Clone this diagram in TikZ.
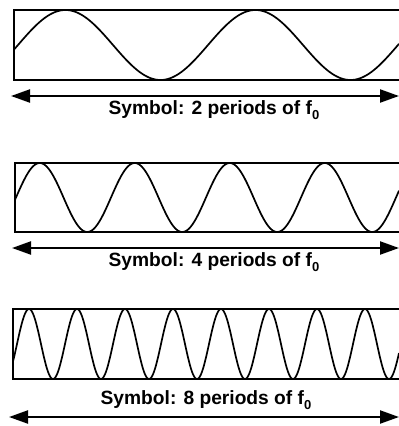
\documentclass[tikz,border=0pt]{standalone}
\usepackage{fontspec}
\setmainfont{Liberation Sans}
\usetikzlibrary{arrows.meta}
\newcommand{\subz}{\raisebox{-0.25em}{\fontsize{13}{13}\selectfont 0}}
\tikzset{
  panelbox/.style={line width=1.6pt},
  wave/.style={line width=1.7pt, line join=round},
  span/.style={line width=2.2pt, {Triangle[length=19pt,width=13pt]}-{Triangle[length=19pt,width=13pt]}},
  lab/.style={font=\fontsize{19.2}{21}\selectfont\bfseries, inner sep=0pt}
}
\begin{document}
\begin{tikzpicture}[x=1pt,y=-1pt]
\useasboundingbox (0,0) rectangle (399,426);
% panel 1
\draw[panelbox] (14,10) rectangle (400,80);
\draw[wave] plot[domain=14:399,samples=300] (\x,{45-35*sin((\x-18)/190*360)});
\coordinate (a1) at (11,96); \coordinate (b1) at (399,96);
\draw[span] (a1) -- (b1);
\node[lab] (t1) at (214,110) {Symbol: 2 periods of f\subz};
% panel 2
\draw[panelbox] (15,163) rectangle (400,232);
\draw[wave] plot[domain=15:399,samples=300] (\x,{197.5-34.5*sin((\x-16)/95*360)});
\coordinate (a2) at (12,248); \coordinate (b2) at (399,248);
\draw[span] (a2) -- (b2);
\node[lab] (t2) at (214,262) {Symbol: 4 periods of f\subz};
% panel 3
\draw[panelbox] (13,309) rectangle (400,379);
\draw[wave] plot[domain=13:399,samples=400] (\x,{344-35*sin((\x-17)/48*360)});
\coordinate (a3) at (9,417); \coordinate (b3) at (399,417);
\draw[span] (a3) -- (b3);
\node[lab] (t3) at (206,400) {Symbol: 8 periods of f\subz};
\end{tikzpicture}
\end{document}
